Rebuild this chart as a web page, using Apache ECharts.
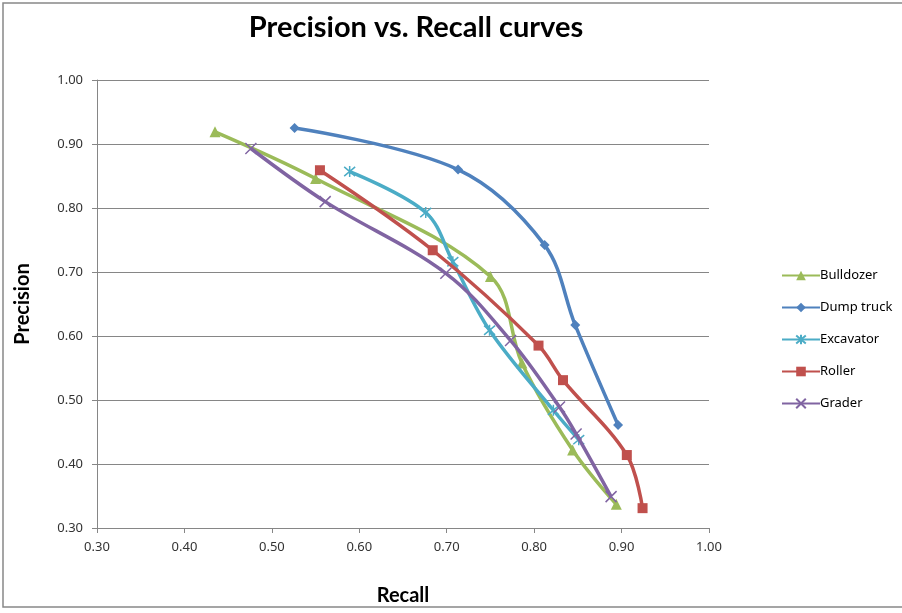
<!DOCTYPE html>
<html><head><meta charset="utf-8">
<script src="https://cdn.jsdelivr.net/npm/echarts@6/dist/echarts.min.js"></script>
<style>html,body{margin:0;padding:0;background:#fff}#c{width:902px;height:613px}</style>
</head><body><div id="c"></div>
<script>
var seriesNames = ['Bulldozer', 'Dump truck', 'Excavator', 'Roller', 'Grader'];
var bulldozer = [[0.435,0.919],[0.550,0.846],[0.750,0.693],[0.786,0.558],[0.844,0.422],[0.894,0.337]];
var dumpTruck = [[0.526,0.925],[0.713,0.860],[0.812,0.742],[0.847,0.617],[0.896,0.461]];
var excavator = [[0.589,0.857],[0.676,0.793],[0.707,0.716],[0.749,0.609],[0.822,0.484],[0.851,0.438]];
var roller = [[0.555,0.859],[0.684,0.734],[0.805,0.585],[0.833,0.531],[0.906,0.414],[0.924,0.331]];
var grader = [[0.476,0.893],[0.561,0.810],[0.699,0.698],[0.773,0.593],[0.829,0.489],[0.848,0.447],[0.888,0.349]];
var axisTicks = [0.30,0.40,0.50,0.60,0.70,0.80,0.90,1.00];

var colors = ['#9BBB59','#4F81BD','#4BACC6','#C0504D','#8064A2'];
var datasets = [bulldozer, dumpTruck, excavator, roller, grader];
var asterisk = 'path://M0,0 L10,10 M10,0 L0,10 M5,-1 L5,11';
var cross = 'path://M0,0 L10,10 M10,0 L0,10';
var symbols = ['triangle','diamond',asterisk,'rect',cross];
var symSizes = [11,10,11,10,11];

var chart = echarts.init(document.getElementById('c'));
var series = datasets.map(function(d,i){
  var stroked = (i===2 || i===4);
  return {
    name: seriesNames[i], type:'line', data:d, smooth:0.35,
    symbol: symbols[i], symbolSize: symSizes[i],
    lineStyle:{color:colors[i], width:3.5},
    itemStyle: stroked ? {color:'rgba(0,0,0,0)', borderColor:colors[i], borderWidth:1.5} : {color:colors[i]},
    z: 2 + i
  };
});
var axisLabelStyle = {fontFamily:'Noto Sans', fontSize:13, color:'#333', formatter:function(v){return v.toFixed(2);}};
chart.setOption({
  animation:false,
  backgroundColor:'#fff',
  title:{text:'Precision vs. Recall curves', left:411, top:8, textAlign:'center',
    textStyle:{fontFamily:'Lato', fontWeight:'bold', fontSize:29, color:'#000'}},
  legend:{orient:'vertical', left:776, top:264, itemGap:19, itemWidth:38, itemHeight:12,
    data:seriesNames, textStyle:{fontFamily:'Noto Sans', fontSize:13, color:'#000', padding:[0,0,0,-5]}},
  grid:{left:97, right:193, top:80, bottom:85},
  xAxis:{type:'value', min:0.3, max:1.0, interval:0.1,
    name:'Recall', nameLocation:'middle', nameGap:58,
    nameTextStyle:{fontFamily:'Lato', fontWeight:'bold', fontSize:20, color:'#000'},
    axisLine:{show:true, lineStyle:{color:'#868686', width:1}},
    axisTick:{show:true, length:5, lineStyle:{color:'#868686'}},
    axisLabel:Object.assign({margin:13}, axisLabelStyle),
    splitLine:{show:false}},
  yAxis:{type:'value', min:0.3, max:1.0, interval:0.1,
    name:'Precision', nameLocation:'middle', nameGap:64, nameRotate:90,
    nameTextStyle:{fontFamily:'Lato', fontWeight:'bold', fontSize:20, color:'#000'},
    axisLine:{show:true, lineStyle:{color:'#868686', width:1}},
    axisTick:{show:true, length:5, lineStyle:{color:'#868686'}},
    axisLabel:Object.assign({margin:14}, axisLabelStyle),
    splitLine:{show:true, lineStyle:{color:'#868686', width:1}}},
  graphic:[{type:'rect', shape:{x:3, y:3, width:920, height:604}, style:{fill:'none', stroke:'#888', lineWidth:1.5}, silent:true, z:-1}],
  series:series
});
</script></body></html>
